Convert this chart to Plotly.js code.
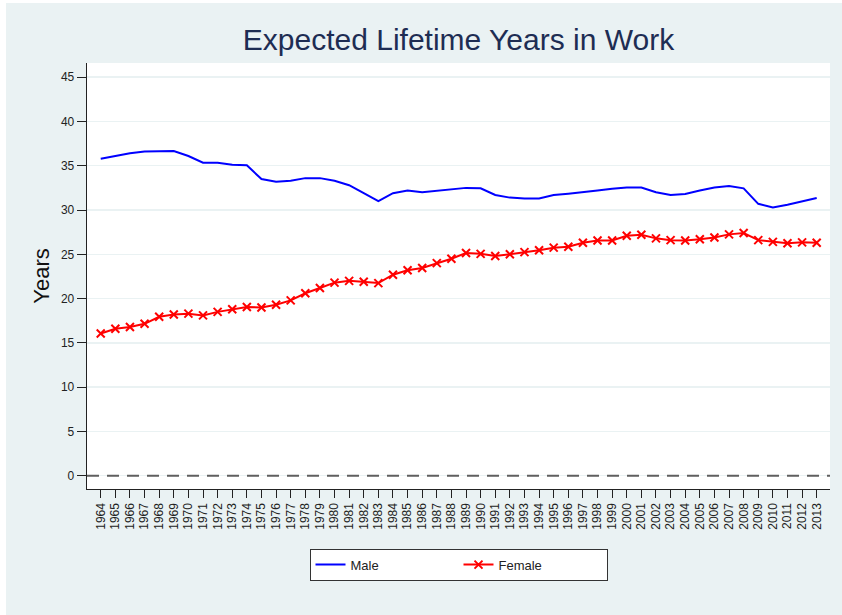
<!DOCTYPE html>
<html>
<head>
<meta charset="utf-8">
<script src="https://cdn.plot.ly/plotly-3.0.1.min.js"></script>
<style>html,body{margin:0;padding:0;background:#fff;} #chart{width:842px;height:615px;}</style>
</head>
<body>
<div id="chart"></div>
<script>
const years = [1964,1965,1966,1967,1968,1969,1970,1971,1972,1973,1974,1975,1976,1977,1978,1979,1980,1981,1982,1983,1984,1985,1986,1987,1988,1989,1990,1991,1992,1993,1994,1995,1996,1997,1998,1999,2000,2001,2002,2003,2004,2005,2006,2007,2008,2009,2010,2011,2012,2013];
const male = [35.8,36.1,36.4,36.6,36.65,36.65,36.1,35.35,35.35,35.1,35.05,33.5,33.2,33.3,33.6,33.6,33.3,32.8,31.9,31.0,31.9,32.2,32.0,32.15,32.3,32.5,32.45,31.7,31.4,31.3,31.3,31.7,31.85,32.0,32.2,32.4,32.55,32.55,32.0,31.7,31.8,32.2,32.55,32.7,32.45,30.7,30.3,30.6,31.0,31.35];
const female = [16.05,16.6,16.8,17.15,17.95,18.2,18.3,18.1,18.5,18.8,19.05,19.0,19.3,19.8,20.6,21.2,21.8,22.0,21.9,21.75,22.7,23.2,23.45,24.0,24.5,25.15,25.05,24.8,25.0,25.25,25.45,25.75,25.85,26.3,26.55,26.55,27.1,27.2,26.8,26.6,26.55,26.7,26.9,27.25,27.4,26.6,26.4,26.25,26.35,26.3];
const yTicks = [0,5,10,15,20,25,30,35,40,45];
const bg = '#EAF2F3';

const traces = [
  {x: years, y: male, type: 'scatter', mode: 'lines', name: 'Male',
   line: {color: '#0000FF', width: 2}},
  {x: years, y: female, type: 'scatter', mode: 'lines+markers', name: 'Female',
   line: {color: '#FF0000', width: 2},
   marker: {symbol: 'x-thin-open', size: 8, color: '#FF0000', line: {color: '#FF0000', width: 2}}}
];

const layout = {
  width: 842, height: 615,
  paper_bgcolor: bg, plot_bgcolor: '#FFFFFF',
  margin: {l: 87, r: 12, t: 63, b: 126},
  font: {family: 'Liberation Sans, Arial, sans-serif', color: '#222'},
  title: {text: 'Expected Lifetime Years in Work', font: {size: 30, color: '#1E2D53', family: 'Liberation Sans, Arial, sans-serif'},
          x: 0.5, xref: 'paper', xanchor: 'center', y: 0.935, yref: 'container', yanchor: 'middle'},
  xaxis: {range: [1963.06, 2013.91], tickmode: 'array', tickvals: years, ticktext: years.map(String),
          tickangle: -90, ticks: 'outside', ticklen: 8, tickwidth: 1, tickcolor: '#222',
          showline: true, linecolor: '#222', linewidth: 1.3, showgrid: false, zeroline: false,
          tickfont: {size: 12, color: '#222'}},
  yaxis: {range: [-1.5, 46.6], tickmode: 'array', tickvals: yTicks, ticks: 'outside', ticklen: 9, tickwidth: 1, tickcolor: '#222',
          showline: true, linecolor: '#222', linewidth: 1.3, showgrid: true, gridcolor: bg, gridwidth: 1.5, zeroline: false,
          tickfont: {size: 12, color: '#222'},
          title: {text: 'Years', font: {size: 22, color: '#111'}, standoff: 5}},
  showlegend: true,
  legend: {orientation: 'h', x: 0.5, xanchor: 'center', y: -0.14, yanchor: 'top',
           bgcolor: '#FFFFFF', bordercolor: '#333', borderwidth: 1,
           font: {size: 13, color: '#222'}, entrywidth: 103, entrywidthmode: 'pixels'},
  shapes: [
    {type: 'line', xref: 'paper', x0: 0, x1: 1, yref: 'y', y0: 0, y1: 0,
     line: {color: '#5F5F5F', width: 2, dash: '12px,8px'}, layer: 'above'},
    {type: 'rect', xref: 'paper', yref: 'paper', x0: -87/743, x1: 755/743, y0: 1 + 60/426, y1: 1 + 63/426,
     fillcolor: '#FFFFFF', line: {width: 0}, layer: 'below'},
    {type: 'rect', xref: 'paper', yref: 'paper', x0: -87/743, x1: -81/743, y0: -126/426, y1: 1 + 63/426,
     fillcolor: '#FFFFFF', line: {width: 0}, layer: 'below'}
  ]
};

Plotly.newPlot('chart', traces, layout, {displayModeBar: false, staticPlot: true});
</script>
</body>
</html>
